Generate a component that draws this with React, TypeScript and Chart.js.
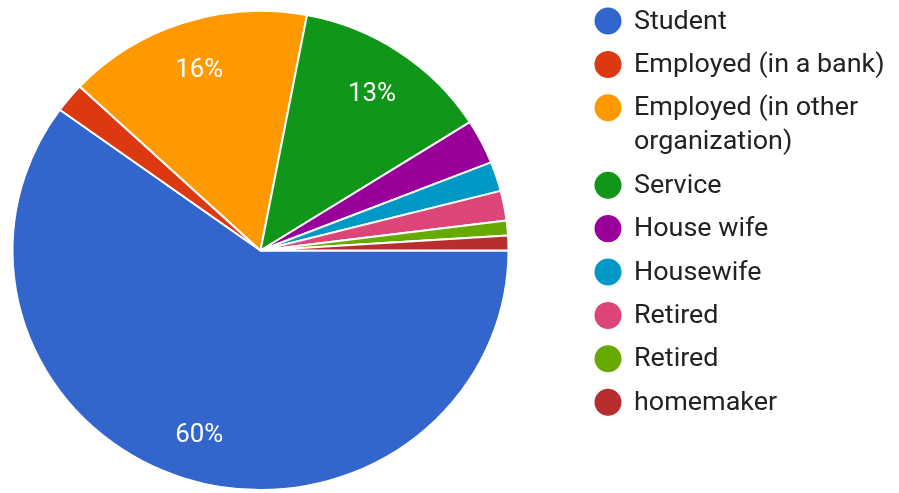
import React, { useEffect, useRef } from "react";
import { Chart, registerables } from "chart.js";

Chart.register(...registerables);

const categories = [
  "Student",
  "Employed (in a bank)",
  "Employed (in other organization)",
  "Service",
  "House wife",
  "Housewife",
  "Retired",
  "Retired",
  "homemaker",
];
const counts = [60, 2, 16, 13, 3, 2, 2, 1, 1];
const sliceColors = [
  "#3366cc",
  "#dc3912",
  "#ff9900",
  "#109618",
  "#990099",
  "#0099c6",
  "#dd4477",
  "#66aa00",
  "#b82e2e",
];

const SCALE_Y = 0.966;
const TEXT_SX = 1.035;
const FONT = "Roboto, 'Noto Sans', sans-serif";

const ellipsePlugin = {
  id: "ellipse",
  beforeDatasetsDraw(chart: any) {
    const arc = chart.getDatasetMeta(0).data[0];
    if (!arc) return;
    const ctx = chart.ctx;
    ctx.save();
    ctx.translate(arc.x, arc.y);
    ctx.scale(1, SCALE_Y);
    ctx.translate(-arc.x, -arc.y);
  },
  afterDatasetsDraw(chart: any) {
    chart.ctx.restore();
  },
};

function stretchedText(ctx: CanvasRenderingContext2D, text: string, x: number, y: number) {
  ctx.save();
  ctx.translate(x, y);
  ctx.scale(TEXT_SX, 1);
  ctx.fillText(text, 0, 0);
  ctx.restore();
}

const percentPlugin = {
  id: "percentLabels",
  afterDatasetsDraw(chart: any) {
    const ctx = chart.ctx;
    const data = chart.data.datasets[0].data as number[];
    const total = data.reduce((a, b) => a + b, 0);
    const meta = chart.getDatasetMeta(0);
    ctx.save();
    ctx.fillStyle = "#ffffff";
    ctx.font = `25px ${FONT}`;
    ctx.textAlign = "center";
    ctx.textBaseline = "middle";
    meta.data.forEach((arc: any, i: number) => {
      const pct = (data[i] / total) * 100;
      if (pct < 5) return;
      const p = arc.getProps(["x", "y", "startAngle", "endAngle", "outerRadius"], true);
      const mid = (p.startAngle + p.endAngle) / 2;
      const r = p.outerRadius * 0.8;
      const x = p.x + Math.cos(mid) * r;
      const y = p.y + Math.sin(mid) * r * SCALE_Y + 3;
      stretchedText(ctx, Math.round(pct) + "%", x, y);
    });
    ctx.restore();
  },
};

const legendPlugin = {
  id: "sideLegend",
  afterDraw(chart: any) {
    const ctx = chart.ctx;
    const labels = chart.data.labels as string[];
    const colors = chart.data.datasets[0].backgroundColor as string[];
    const dotX = 608;
    const textX = 634;
    const maxW = 264;
    const itemGap = 43.4;
    const lineGap = 34;
    let y = 21;
    ctx.save();
    ctx.font = `26px ${FONT}`;
    ctx.textBaseline = "middle";
    ctx.textAlign = "left";
    labels.forEach((label, i) => {
      const words = label.split(" ");
      const lines: string[] = [];
      let cur = "";
      words.forEach((w) => {
        const test = cur ? cur + " " + w : w;
        if (ctx.measureText(test).width * TEXT_SX > maxW && cur) {
          lines.push(cur);
          cur = w;
        } else cur = test;
      });
      if (cur) lines.push(cur);
      ctx.fillStyle = colors[i];
      ctx.beginPath();
      ctx.arc(dotX, y, 13.5, 0, Math.PI * 2);
      ctx.fill();
      ctx.fillStyle = "#222222";
      lines.forEach((ln, j) => {
        stretchedText(ctx, ln, textX, y + j * lineGap + 1);
      });
      y += itemGap + (lines.length - 1) * lineGap;
    });
    ctx.restore();
  },
};

export default function App() {
  const ref = useRef<HTMLCanvasElement | null>(null);
  useEffect(() => {
    if (!ref.current) return;
    const W = 899;
    const H = 520;
    const left = 11.5;
    const right = 509.5;
    const top = 1.5;
    const bottom = 499.5;
    const chart = new Chart(ref.current, {
      type: "pie",
      data: {
        labels: categories,
        datasets: [
          {
            data: counts,
            backgroundColor: sliceColors,
            borderColor: "#ffffff",
            borderWidth: 2,
            hoverOffset: 0,
            offset: 0,
          },
        ],
      },
      options: {
        responsive: false,
        animation: false,
        rotation: 90,
        events: [],
        layout: {
          padding: { left, right: W - right, top, bottom: H - bottom },
        },
        plugins: {
          legend: { display: false },
          tooltip: { enabled: false },
        },
      },
      plugins: [ellipsePlugin, percentPlugin, legendPlugin],
    });
    return () => chart.destroy();
  }, []);
  return (
    <div
      style={{
        position: "absolute",
        left: 0,
        top: 0,
        width: 899,
        height: 493,
        overflow: "hidden",
        background: "#ffffff",
      }}
    >
      <canvas ref={ref} width={899} height={520} style={{ display: "block" }} />
    </div>
  );
}
